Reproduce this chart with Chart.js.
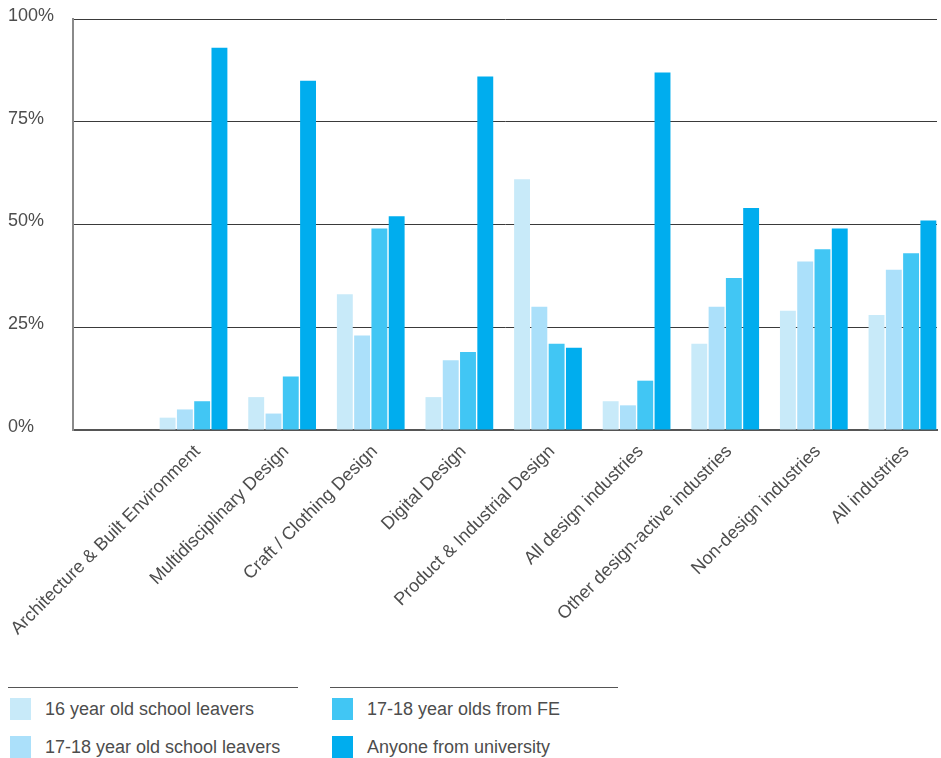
<!DOCTYPE html>
<html>
<head>
<meta charset="utf-8">
<script src="https://cdn.jsdelivr.net/npm/chart.js@4/dist/chart.umd.min.js"></script>
<style>
    body { margin: 0; background: #fff; font-family: 'Liberation Sans', Arial, sans-serif; }
    #wrap { position: relative; width: 941px; height: 758px; }
    #chart-box { position: absolute; left: 0; top: 0; width: 941px; height: 660px; }
    .legend-col { position: absolute; top: 687px; border-top: 1.5px solid #555; }
    .legend-item { display: flex; align-items: center; height: 38px; font-size: 18px; color: #4d4d4d; }
    .legend-item:first-child { margin-top: 2px; }
    .legend-item .sw { width: 21px; height: 22px; margin: 0 14px 0 2px; }
</style>
</head>
<body>
<div id="wrap">
    <div id="chart-box"><canvas id="chart"></canvas></div>
    <div id="legend"></div>
</div>
<script>
// Categories and series (percent of workforce)
const categories = [
    'Architecture & Built Environment',
    'Multidisciplinary Design',
    'Craft / Clothing Design',
    'Digital Design',
    'Product & Industrial Design',
    'All design industries',
    'Other design-active industries',
    'Non-design industries',
    'All industries'
];
const seriesNames = [
    '16 year old school leavers',
    '17-18 year old school leavers',
    '17-18 year olds from FE',
    'Anyone from university'
];
const school16 = [3, 8, 33, 8, 61, 7, 21, 29, 28];
const school1718 = [5, 4, 23, 17, 30, 6, 30, 41, 39];
const fromFE = [7, 13, 49, 19, 21, 12, 37, 44, 43];
const university = [93, 85, 52, 86, 20, 87, 54, 49, 51];
const yTicks = [0, 25, 50, 75, 100];

const colors = ['#c8eaf9', '#abe0fa', '#41c6f4', '#00adee'];
const TEXT = '#4d4d4d';

const toPoints = (vals) => vals.map((v, i) => ({ x: i, y: v }));

const datasets = [school16, school1718, fromFE, university].map((vals, i) => ({
    label: seriesNames[i],
    data: toPoints(vals),
    backgroundColor: colors[i],
    borderWidth: 0,
    categoryPercentage: 0.78,
    barPercentage: 0.92
}));

new Chart(document.getElementById('chart'), {
    type: 'bar',
    data: { datasets },
    options: {
        responsive: true,
        maintainAspectRatio: false,
        animation: false,
        layout: { padding: { left: 8, top: 19, right: 4, bottom: 0 } },
        plugins: {
            legend: { display: false },
            tooltip: { enabled: false }
        },
        scales: {
            x: {
                type: 'linear',
                offset: false,
                // leave the empty band on the left like the original
                min: -1.36,
                max: 8.39,
                grid: { display: false },
                border: { display: true, color: '#555', width: 2 },
                ticks: {
                    stepSize: 1,
                    includeBounds: false,
                    autoSkip: false,
                    maxRotation: 45,
                    minRotation: 45,
                    padding: 3,
                    labelOffset: 4,
                    color: TEXT,
                    font: { family: "'Liberation Sans', Arial, sans-serif", size: 18 },
                    callback: (v) => categories[v] ?? ''
                },
                afterFit: (scale) => { scale.height = 230; }
            },
            y: {
                min: 0,
                max: 100,
                afterBuildTicks: (scale) => { scale.ticks = yTicks.map(v => ({ value: v })); },
                grid: {
                    color: '#3a3a3a',
                    lineWidth: 1,
                    drawTicks: false
                },
                border: { display: true, color: '#8a8a8a', width: 2 },
                ticks: {
                    crossAlign: 'far',
                    labelOffset: -3,
                    color: TEXT,
                    font: { family: "'Liberation Sans', Arial, sans-serif", size: 18 },
                    callback: (v) => v + '%'
                },
                afterFit: (scale) => { scale.width = 65; }
            }
        }
    }
});

// Two-column legend with a rule above each column
const legendEl = document.getElementById('legend');
const cols = [{ left: 8, width: 290, items: [0, 1] }, { left: 330, width: 288, items: [2, 3] }];
cols.forEach(c => {
    const col = document.createElement('div');
    col.className = 'legend-col';
    col.style.left = c.left + 'px';
    col.style.width = c.width + 'px';
    c.items.forEach(i => {
        const row = document.createElement('div');
        row.className = 'legend-item';
        row.innerHTML = `<span class="sw" style="background:${colors[i]}"></span>${seriesNames[i]}`;
        col.appendChild(row);
    });
    legendEl.appendChild(col);
});
</script>
</body>
</html>
